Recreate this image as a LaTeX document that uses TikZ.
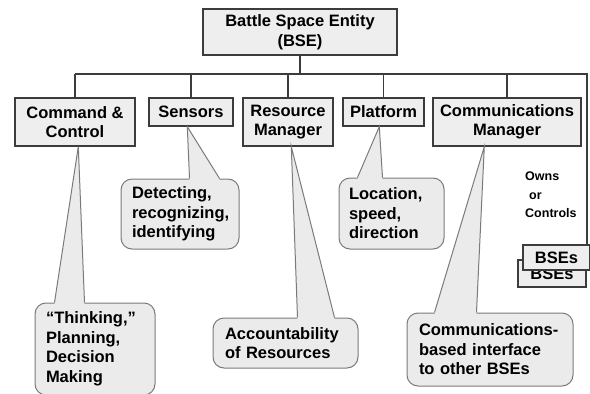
\documentclass[tikz,border=0pt]{standalone}
\usepackage{fontspec}
\setmainfont{Liberation Sans}
\usetikzlibrary{calc}
\definecolor{boxfill}{HTML}{EEEEEE}
\definecolor{boxline}{HTML}{3C3C3C}
\definecolor{callfill}{HTML}{EBEBEB}
\definecolor{callline}{HTML}{7A7A7A}
\tikzset{
  unitbox/.style={draw=boxline, fill=boxfill, line width=1.4pt, align=center, inner sep=0pt,
    font=\bfseries\fontsize{16.5}{19.5}\selectfont},
  conn/.style={draw=boxline, line width=1.3pt},
  callbox/.style={draw=callline, fill=callfill, line width=1pt, rounded corners=11pt,
    align=left, inner xsep=11pt, inner ysep=0pt, font=\bfseries\fontsize{16.5}{19.5}\selectfont},
  tailfill/.style={fill=callfill},
  tailline/.style={draw=callline, line width=1pt},
}
\newcommand{\calltail}[4]{% parent anchor point, callout node, base left x, base right x
  \fill[tailfill] (#1) -- ($(#2.north west)+(#3,1.3)$) -- ($(#2.north west)+(#4,1.3)$) -- cycle;
  \draw[tailline] ($(#2.north west)+(#3,0)$) -- (#1) -- ($(#2.north west)+(#4,0)$);
}
\begin{document}
\begin{tikzpicture}[x=1pt,y=-1pt]
\useasboundingbox (0,0) rectangle (590,394);
% main boxes
\node[unitbox, minimum width=194pt, minimum height=46pt] (bse) at (300,32) {Battle Space Entity\\(BSE)};
\node[unitbox, minimum width=120pt, minimum height=48pt] (cc) at (75,122) {Command \&\\Control};
\node[unitbox, minimum width=84pt, minimum height=28pt] (sens) at (191,112) {Sensors};
\node[unitbox, minimum width=90pt, minimum height=48pt] (rm) at (288,122) {Resource\\Manager};
\node[unitbox, minimum width=81pt, minimum height=28pt] (plat) at (383.5,112) {Platform};
\node[unitbox, minimum width=148pt, minimum height=48pt] (comm) at (507,122) {Communications\\Manager};
% owned BSEs
\node[unitbox, minimum width=68pt, minimum height=27pt] (bsesb) at (552,273.5) {BSEs};
\node[unitbox, minimum width=67pt, minimum height=25pt] (bsesf) at (556.5,257.5) {BSEs};
% bus
\coordinate (bus) at (300,74);
\coordinate (busR) at (587,74);
\draw[conn] (bse.south) -- (bse.south|-bus);
\draw[conn] (cc.north|-bus) -- (busR) -- (busR|-bsesf.north);
\foreach \n in {cc,sens,rm,plat,comm}{\draw[conn] (\n.north) -- (\n.north|-bus);}
\node[anchor=north west, align=left, inner sep=0pt, font=\bfseries\fontsize{12.5}{18.5}\selectfont] (owns) at (525,172) {Owns\\\hspace{4pt}or\\Controls};
% callouts
\node[callbox, minimum width=120pt, minimum height=92pt, text width=98pt] (think) at (95,349) {``Thinking,''\\Planning,\\Decision\\Making};
\node[callbox, minimum width=118pt, minimum height=70pt, text width=96pt] (detect) at (180,214) {Detecting,\\recognizing,\\identifying};
\node[callbox, minimum width=145pt, minimum height=50pt, text width=121pt, inner xsep=12pt] (acct) at (285.5,343) {Accountability\\of Resources};
\node[callbox, minimum width=105pt, minimum height=71pt, text width=85pt, inner xsep=10pt] (loc) at (391.5,213.5) {Location,\\speed,\\direction};
\node[callbox, minimum width=166pt, minimum height=73pt, text width=142pt, inner xsep=12pt] (cmi) at (490,349.5) {Communications-\\based interface\\to other BSEs};
% tails
\coordinate (t1) at ($(cc.south west)+(64,0)$);
\coordinate (t2) at ($(sens.south west)+(39,0)$);
\coordinate (t3) at ($(rm.south west)+(49,0)$);
\coordinate (t4) at ($(plat.south west)+(37,0)$);
\coordinate (t5) at ($(comm.south west)+(52,0)$);
\calltail{t1}{think}{20}{50}
\calltail{t2}{detect}{69}{99}
\calltail{t3}{acct}{85}{122}
\calltail{t4}{loc}{19}{44}
\calltail{t5}{cmi}{28}{70}
\end{tikzpicture}
\end{document}
